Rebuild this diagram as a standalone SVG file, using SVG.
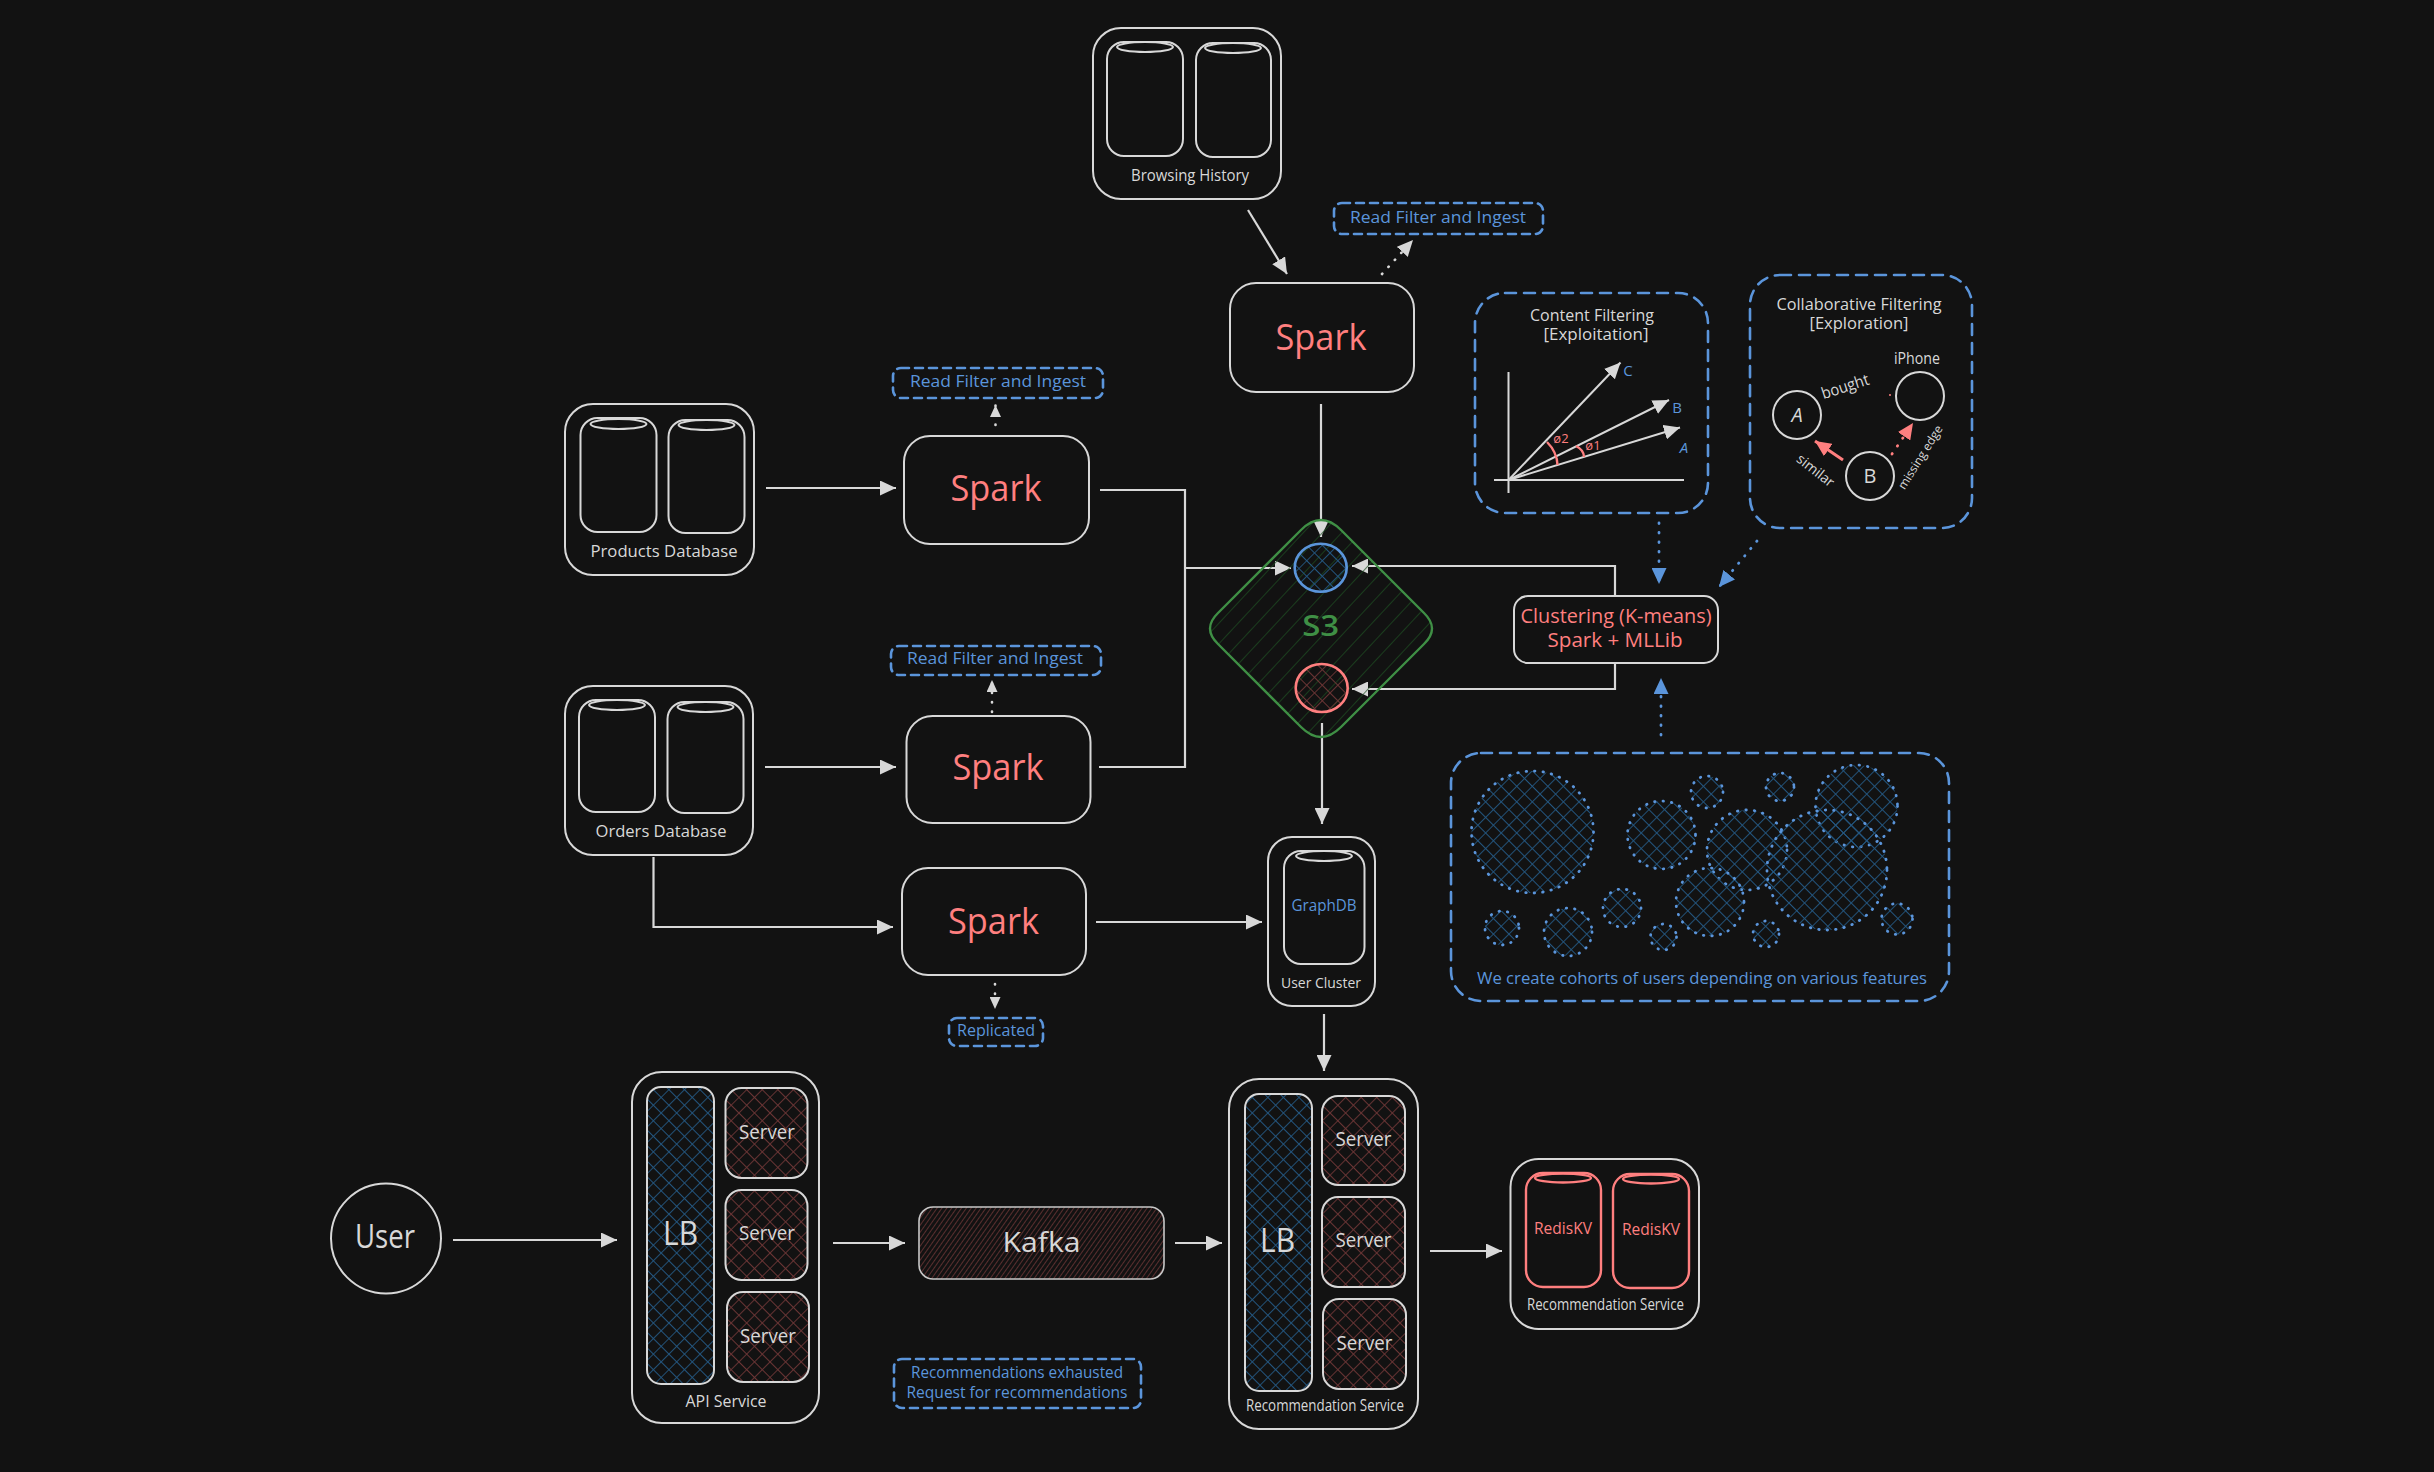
<svg xmlns="http://www.w3.org/2000/svg" width="2434" height="1472" viewBox="0 0 2434 1472">
<style>
text{font-family:"Open Sans","Liberation Sans",sans-serif;text-anchor:middle;dominant-baseline:central;fill:#d8d8d8}
.n{fill:none;stroke:#d8d8d8;stroke-width:2}
.r{fill:none;stroke:#ff7f7f;stroke-width:2.4}
.d{fill:none;stroke:#5b95db;stroke-width:2.6;stroke-dasharray:11 8;stroke-linecap:round}
.ds{fill:none;stroke:#5b95db;stroke-width:2.6;stroke-dasharray:8 6;stroke-linecap:round}
.c{fill:url(#xblue);stroke:#5b95db;stroke-width:2.8;stroke-dasharray:.5 8;stroke-linecap:round}
.lb{fill:url(#xblue);stroke:#d8d8d8;stroke-width:2}
.sv{fill:url(#xred);stroke:#d8d8d8;stroke-width:2}
.w{fill:none;stroke:#d8d8d8;stroke-width:2.2}
.wd{fill:none;stroke:#d8d8d8;stroke-width:2.6;stroke-dasharray:.5 9;stroke-linecap:round}
.bd{fill:none;stroke:#5b95db;stroke-width:2.8;stroke-dasharray:.5 9;stroke-linecap:round}
.rd{fill:none;stroke:#ff7f7f;stroke-width:2.8;stroke-dasharray:.5 9;stroke-linecap:round}
.sp{font-size:36px;fill:#ff7f7f}
.lab{font-size:16px}
.bl{font-size:17px;fill:#5b95db}
.sm{font-size:14px}
.srv{font-size:20px}
.big{font-size:32px}
</style>
<defs>
<pattern id="xblue" width="11" height="11" patternUnits="userSpaceOnUse" patternTransform="rotate(45)"><path d="M0 0H11M0 0V11" stroke="#235680" stroke-width="1.8"/></pattern>
<pattern id="xred" width="11" height="11" patternUnits="userSpaceOnUse" patternTransform="rotate(45)"><path d="M0 0H11M0 0V11" stroke="#6b3535" stroke-width="1.8"/></pattern>
<pattern id="hred" width="4" height="4" patternUnits="userSpaceOnUse" patternTransform="rotate(-55)"><path d="M0 0H4" stroke="#6b3535" stroke-width="1.6"/></pattern>
<pattern id="hgreen" width="14" height="14" patternUnits="userSpaceOnUse" patternTransform="rotate(-47)"><path d="M0 0H14" stroke="#1e4f22" stroke-width="1.4"/></pattern>
<marker id="aw" markerUnits="userSpaceOnUse" markerWidth="16" markerHeight="15" refX="16" refY="7.5" orient="auto"><path d="M0 0L16 7.5L0 15Z" fill="#d8d8d8"/></marker>
<marker id="ab" markerUnits="userSpaceOnUse" markerWidth="16" markerHeight="15" refX="16" refY="7.5" orient="auto"><path d="M0 0L16 7.5L0 15Z" fill="#5b95db"/></marker>
<marker id="ar" markerUnits="userSpaceOnUse" markerWidth="16" markerHeight="15" refX="16" refY="7.5" orient="auto"><path d="M0 0L16 7.5L0 15Z" fill="#ff7f7f"/></marker>
<marker id="as" markerUnits="userSpaceOnUse" markerWidth="12" markerHeight="11" refX="12" refY="5.5" orient="auto"><path d="M0 0L12 5.5L0 11Z" fill="#d8d8d8"/></marker>
</defs>
<rect width="2434" height="1472" fill="#121212"/>

<g id="connectors">
<path class="w" d="M1248 210L1287 274" marker-end="url(#aw)"/>
<path class="wd" d="M1382 274L1413 240" marker-end="url(#aw)"/>
<path class="w" d="M1321 404V537" marker-end="url(#aw)"/>
<path class="w" d="M766 488H896" marker-end="url(#aw)"/>
<path class="wd" d="M995.500 425V405" marker-end="url(#as)"/>
<path class="w" d="M1100 490H1185V767H1099"/>
<path class="w" d="M1185 568H1291" marker-end="url(#aw)"/>
<path class="w" d="M765 767H896" marker-end="url(#aw)"/>
<path class="wd" d="M992 712V680" marker-end="url(#as)"/>
<path class="w" d="M653.500 857V927H893" marker-end="url(#aw)"/>
<path class="w" d="M1096 922H1262" marker-end="url(#aw)"/>
<path class="wd" d="M995 984V1009" marker-end="url(#as)"/>
<path class="w" d="M1615 596V566H1352" marker-end="url(#aw)"/>
<path class="w" d="M1615 663V689H1352" marker-end="url(#aw)"/>
<path class="w" d="M1322 723V824" marker-end="url(#aw)"/>
<path class="w" d="M1324 1014V1071" marker-end="url(#aw)"/>
<path class="w" d="M453 1240H617" marker-end="url(#aw)"/>
<path class="w" d="M833 1243H905" marker-end="url(#aw)"/>
<path class="w" d="M1175 1243H1222" marker-end="url(#aw)"/>
<path class="w" d="M1430 1251H1502" marker-end="url(#aw)"/>
<path class="bd" d="M1659 523V584" marker-end="url(#ab)"/>
<path class="bd" d="M1757 541L1719 587" marker-end="url(#ab)"/>
<path class="bd" d="M1661 735V678" marker-end="url(#ab)"/>
</g>

<g id="browsing-history">
<rect class="n" x="1093" y="28" width="188" height="171" rx="28"/>
<rect class="n" x="1107" y="42" width="76" height="114" rx="17"/><ellipse class="n" cx="1145" cy="47" rx="28" ry="5"/>
<rect class="n" x="1196" y="43" width="75" height="114" rx="17"/><ellipse class="n" cx="1233" cy="48" rx="28" ry="5"/>
<text class="lab" x="1190" y="175" textLength="118" lengthAdjust="spacingAndGlyphs">Browsing History</text>
</g>
<g id="read-filter-top">
<rect class="ds" x="1334" y="203" width="209" height="31" rx="8"/>
<text class="bl" x="1438" y="216" textLength="176" lengthAdjust="spacingAndGlyphs">Read Filter and Ingest</text>
</g>
<g id="spark-top">
<rect class="n" x="1230" y="283" width="184" height="109" rx="26"/>
<text class="sp" x="1321" y="336" textLength="91" lengthAdjust="spacingAndGlyphs">Spark</text>
</g>

<g id="content-filtering">
<rect class="d" x="1475" y="293" width="233" height="220" rx="30"/>
<text class="lab" x="1592" y="315" textLength="124" lengthAdjust="spacingAndGlyphs">Content Filtering</text>
<text class="lab" x="1596" y="334" textLength="105" lengthAdjust="spacingAndGlyphs">[Exploitation]</text>
<path class="n" d="M1508.500 372V493M1494 480H1684"/>
<path class="n" d="M1508.500 480L1620.500 362.500" marker-end="url(#aw)"/>
<path class="n" d="M1508.500 480L1669 400" marker-end="url(#aw)"/>
<path class="n" d="M1508.500 480L1680 427.500" marker-end="url(#aw)"/>
<path class="r" d="M1547 442Q1557 452 1557.500 465M1576 446Q1584 450 1584 457"/>
<text x="1628" y="370" style="fill:#5b95db;font-size:15px">C</text>
<text x="1677" y="407" style="fill:#5b95db;font-size:15px">B</text>
<text x="1684" y="447" style="fill:#5b95db;font-size:15px;font-style:italic">A</text>
<text x="1561" y="438" style="fill:#ff7f7f;font-size:13px">ø2</text>
<text x="1593" y="445" style="fill:#ff7f7f;font-size:13px">ø1</text>
</g>

<g id="collaborative-filtering">
<rect class="d" x="1750" y="275" width="222" height="253" rx="30"/>
<text class="lab" x="1859" y="304" textLength="165" lengthAdjust="spacingAndGlyphs">Collaborative Filtering</text>
<text class="lab" x="1859" y="323" textLength="99" lengthAdjust="spacingAndGlyphs">[Exploration]</text>
<text class="lab" x="1917" y="358" textLength="46" lengthAdjust="spacingAndGlyphs">iPhone</text>
<circle class="n" cx="1920" cy="396" r="24"/>
<circle class="n" cx="1797" cy="415" r="24"/>
<text x="1797" y="414" style="font-size:20px;font-style:italic">A</text>
<circle class="n" cx="1870" cy="476" r="24"/>
<text x="1870" y="475" style="font-size:20px">B</text>
<text class="lab" x="1845" y="386" transform="rotate(-18 1845 386)" textLength="49" lengthAdjust="spacingAndGlyphs">bought</text>
<text class="sm" x="1816" y="470" transform="rotate(38 1816 470)">similar</text>
<text x="1920" y="457" style="font-size:12px" transform="rotate(-58 1920 457)">missing edge</text>
<path class="r" d="M1843 460L1815 441" marker-end="url(#ar)" style="stroke-width:3"/>
<path class="rd" d="M1892 454L1913 423" marker-end="url(#ar)"/>
<circle cx="1890" cy="395" r="1" fill="#ff7f7f"/>
</g>

<g id="clustering">
<rect class="n" x="1514" y="596" width="204" height="67" rx="14" style="fill:#121212"/>
<text x="1616" y="615" style="font-size:20px;fill:#ff7f7f" textLength="191" lengthAdjust="spacingAndGlyphs">Clustering (K-means)</text>
<text x="1615" y="639" style="font-size:20px;fill:#ff7f7f" textLength="135" lengthAdjust="spacingAndGlyphs">Spark + MLLib</text>
</g>

<g id="cohorts">
<rect class="d" x="1451" y="753" width="498" height="248" rx="30"/>
<circle class="c" cx="1532.500" cy="832" r="61"/>
<circle class="c" cx="1661.500" cy="835" r="34"/>
<circle class="c" cx="1707" cy="792" r="16"/>
<circle class="c" cx="1780" cy="787" r="14"/>
<circle class="c" cx="1856.500" cy="806" r="41"/>
<circle class="c" cx="1747" cy="850" r="40"/>
<circle class="c" cx="1827" cy="870" r="60"/>
<circle class="c" cx="1710" cy="902" r="34"/>
<circle class="c" cx="1622" cy="908" r="19"/>
<circle class="c" cx="1568" cy="932" r="24"/>
<circle class="c" cx="1502" cy="928" r="17"/>
<circle class="c" cx="1663.500" cy="937" r="13"/>
<circle class="c" cx="1766" cy="934" r="13"/>
<circle class="c" cx="1897" cy="919" r="15.500"/>
<text class="bl" x="1702" y="977" textLength="450" lengthAdjust="spacingAndGlyphs">We create cohorts of users depending on various features</text>
</g>

<g id="s3">
<path d="M1301 530Q1321 510 1341 530L1424 613Q1440 628.500 1424 644L1341 727Q1321 747 1301 727L1218 644Q1202 628.500 1218 613Z" fill="url(#hgreen)" stroke="#3f8f45" stroke-width="2.4"/>
<ellipse cx="1320.700" cy="567.700" rx="26" ry="24" fill="url(#xblue)" stroke="#5b95db" stroke-width="2.6"/>
<ellipse cx="1321.700" cy="688" rx="26" ry="24" fill="url(#xred)" stroke="#ff7f7f" stroke-width="2.6"/>
<text x="1320.700" y="625" style="font-size:28px;font-weight:600;fill:#3f8f45" textLength="37" lengthAdjust="spacingAndGlyphs">S3</text>
</g>

<g id="products-database">
<rect class="n" x="565" y="404" width="189" height="171" rx="28"/>
<rect class="n" x="580.500" y="418" width="76" height="114" rx="17"/><ellipse class="n" cx="618.500" cy="424" rx="28" ry="5"/>
<rect class="n" x="668.500" y="420" width="76" height="113" rx="17"/><ellipse class="n" cx="706.500" cy="425" rx="28" ry="5"/>
<text class="lab" x="664" y="551" textLength="147" lengthAdjust="spacingAndGlyphs">Products Database</text>
</g>
<g id="read-filter-1">
<rect class="ds" x="893" y="368" width="210" height="30" rx="8"/>
<text class="bl" x="998" y="380" textLength="176" lengthAdjust="spacingAndGlyphs">Read Filter and Ingest</text>
</g>
<g id="spark-1">
<rect class="n" x="904" y="436" width="185" height="108" rx="26"/>
<text class="sp" x="996" y="487" textLength="91" lengthAdjust="spacingAndGlyphs">Spark</text>
</g>

<g id="orders-database">
<rect class="n" x="565" y="686" width="188" height="169" rx="28"/>
<rect class="n" x="579" y="700" width="76" height="112" rx="17"/><ellipse class="n" cx="617" cy="705" rx="28" ry="5"/>
<rect class="n" x="667.500" y="702" width="76" height="111" rx="17"/><ellipse class="n" cx="705.500" cy="707" rx="28" ry="5"/>
<text class="lab" x="661" y="831" textLength="131" lengthAdjust="spacingAndGlyphs">Orders Database</text>
</g>
<g id="read-filter-2">
<rect class="ds" x="891" y="646" width="210" height="29" rx="8"/>
<text class="bl" x="995" y="657" textLength="176" lengthAdjust="spacingAndGlyphs">Read Filter and Ingest</text>
</g>
<g id="spark-2">
<rect class="n" x="906.500" y="716" width="184" height="107" rx="26"/>
<text class="sp" x="998" y="766" textLength="91" lengthAdjust="spacingAndGlyphs">Spark</text>
</g>
<g id="spark-3">
<rect class="n" x="902" y="868" width="184" height="107" rx="26"/>
<text class="sp" x="993.500" y="920" textLength="91" lengthAdjust="spacingAndGlyphs">Spark</text>
</g>
<g id="replicated">
<rect class="ds" x="949" y="1018" width="94" height="28" rx="8"/>
<text class="bl" x="996" y="1029" textLength="78" lengthAdjust="spacingAndGlyphs">Replicated</text>
</g>

<g id="user-cluster">
<rect class="n" x="1268" y="837" width="107" height="169" rx="24"/>
<rect class="n" x="1284" y="851" width="80.500" height="113" rx="17"/><ellipse class="n" cx="1324" cy="856" rx="28" ry="5"/>
<text x="1324" y="905" style="font-size:16px;fill:#5b95db" textLength="65" lengthAdjust="spacingAndGlyphs">GraphDB</text>
<text class="sm" x="1321" y="982" textLength="80" lengthAdjust="spacingAndGlyphs">User Cluster</text>
</g>

<g id="user">
<circle class="n" cx="386" cy="1238.500" r="55"/>
<text class="big" x="385" y="1235" textLength="60" lengthAdjust="spacingAndGlyphs">User</text>
</g>

<g id="api-service">
<rect class="n" x="632" y="1072" width="187" height="351" rx="30"/>
<rect class="lb" x="647" y="1087" width="67" height="297" rx="14"/>
<text class="big" x="680.500" y="1232" textLength="35" lengthAdjust="spacingAndGlyphs">LB</text>
<rect class="sv" x="725.500" y="1088" width="82" height="90" rx="16"/>
<text class="srv" x="767" y="1131" textLength="56" lengthAdjust="spacingAndGlyphs">Server</text>
<rect class="sv" x="725.500" y="1190" width="82" height="90" rx="16"/>
<text class="srv" x="767" y="1232" textLength="56" lengthAdjust="spacingAndGlyphs">Server</text>
<rect class="sv" x="727" y="1292" width="82" height="90" rx="16"/>
<text class="srv" x="768" y="1335" textLength="56" lengthAdjust="spacingAndGlyphs">Server</text>
<text class="lab" x="726" y="1401" textLength="81" lengthAdjust="spacingAndGlyphs">API Service</text>
</g>

<g id="kafka">
<rect x="919" y="1207" width="245" height="72" rx="14" fill="url(#hred)" stroke="#c8c8c8" stroke-width="1.6"/>
<text x="1041.500" y="1241" style="font-size:28px" textLength="78" lengthAdjust="spacingAndGlyphs">Kafka</text>
</g>
<g id="recommendations-note">
<rect class="ds" x="894" y="1359" width="247" height="49" rx="8"/>
<text class="bl" x="1017" y="1371" textLength="212" lengthAdjust="spacingAndGlyphs">Recommendations exhausted</text>
<text class="bl" x="1017" y="1391" textLength="221" lengthAdjust="spacingAndGlyphs">Request for recommendations</text>
</g>

<g id="recommendation-service">
<rect class="n" x="1229" y="1079" width="189" height="350" rx="30"/>
<rect class="lb" x="1245" y="1094" width="67" height="297" rx="14"/>
<text class="big" x="1277.500" y="1239" textLength="35" lengthAdjust="spacingAndGlyphs">LB</text>
<rect class="sv" x="1322" y="1096" width="83" height="89" rx="16"/>
<text class="srv" x="1363.500" y="1138" textLength="56" lengthAdjust="spacingAndGlyphs">Server</text>
<rect class="sv" x="1322" y="1197" width="83" height="90" rx="16"/>
<text class="srv" x="1363.500" y="1239" textLength="56" lengthAdjust="spacingAndGlyphs">Server</text>
<rect class="sv" x="1323" y="1299" width="83" height="90" rx="16"/>
<text class="srv" x="1364.500" y="1342" textLength="56" lengthAdjust="spacingAndGlyphs">Server</text>
<text class="lab" x="1325" y="1405" textLength="158" lengthAdjust="spacingAndGlyphs">Recommendation Service</text>
</g>

<g id="redis-service">
<rect class="n" x="1510.500" y="1159" width="188.500" height="170" rx="28"/>
<rect class="r" x="1526" y="1173" width="75" height="114" rx="17"/><ellipse class="r" cx="1563" cy="1178" rx="28" ry="4.500"/>
<text x="1563" y="1227" style="font-size:17px;fill:#ff7f7f" textLength="58" lengthAdjust="spacingAndGlyphs">RedisKV</text>
<rect class="r" x="1613" y="1174" width="76" height="114" rx="17"/><ellipse class="r" cx="1651" cy="1179" rx="28" ry="4.500"/>
<text x="1651" y="1228" style="font-size:17px;fill:#ff7f7f" textLength="58" lengthAdjust="spacingAndGlyphs">RedisKV</text>
<text class="lab" x="1605.500" y="1304" textLength="157" lengthAdjust="spacingAndGlyphs">Recommendation Service</text>
</g>
</svg>
